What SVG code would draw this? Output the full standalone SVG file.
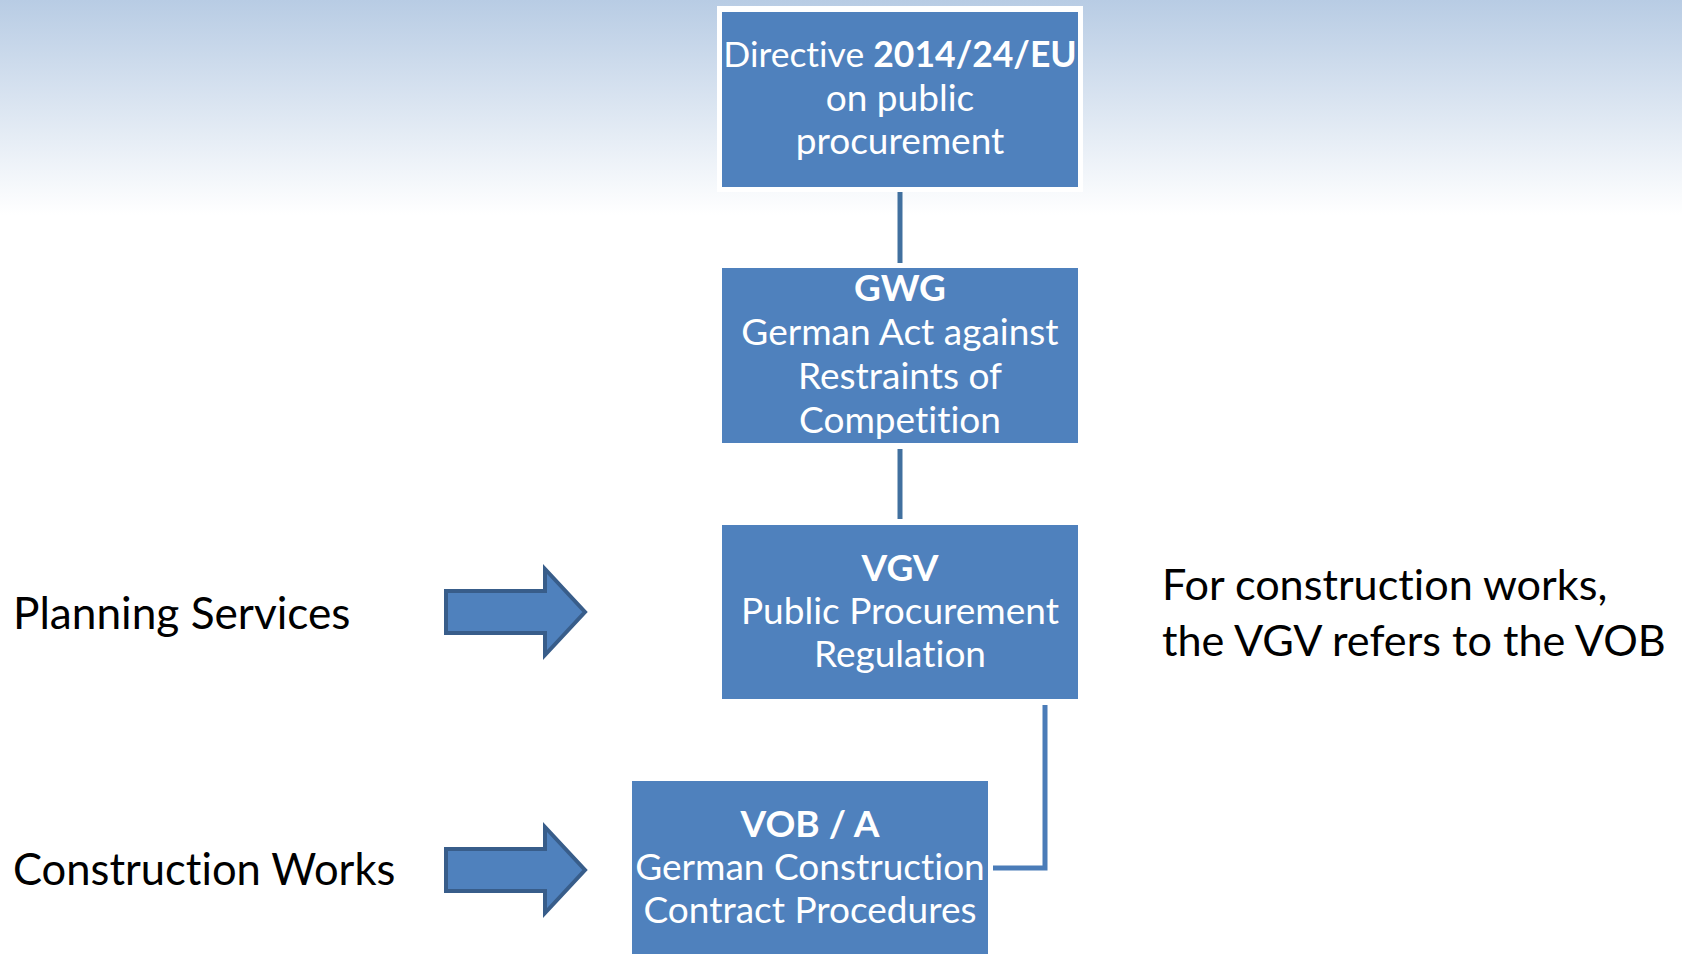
<svg xmlns="http://www.w3.org/2000/svg" width="1682" height="954" viewBox="0 0 1682 954">
<defs>
<linearGradient id="bg" x1="0" y1="0" x2="0" y2="1">
<stop offset="0" stop-color="#B8CCE4"/>
<stop offset="1" stop-color="#FFFFFF"/>
</linearGradient>
<style>
text{font-variant-ligatures:none;font-feature-settings:"liga" 0;}
.box{fill:#4F81BD;}
.bt{font-family:Lato,"Open Sans",sans-serif;font-size:37px;fill:#FFFFFF;text-anchor:middle;}
.b{font-weight:bold;}
.lbl{font-family:Lato,"Open Sans",sans-serif;font-size:43.5px;fill:#000000;}
.conn{fill:none;stroke:#41709F;stroke-width:5;}
.conn2{fill:none;stroke:#4A7CB8;stroke-width:5;}
.arr{fill:#4F81BD;stroke:#385D8A;stroke-width:4;stroke-linejoin:miter;}
</style>
</defs>
<rect x="0" y="0" width="1682" height="954" fill="#FFFFFF"/>
<rect x="0" y="0" width="1682" height="215" fill="url(#bg)"/>

<g id="connectors">
<line class="conn" x1="900" y1="192" x2="900" y2="263"/>
<line class="conn" x1="900" y1="449" x2="900" y2="519"/>
<polyline class="conn2" points="1045,705 1045,868 993,868"/>
</g>

<g id="directive">
<rect x="717" y="6" width="366" height="186" fill="#FFFFFF"/>
<rect class="box" x="722" y="12" width="356" height="175"/>
<text class="bt" x="900" y="67" style="font-size:35.5px">Directive <tspan class="b">2014/24/EU</tspan></text>
<text class="bt" x="900" y="111">on public</text>
<text class="bt" x="900" y="154">procurement</text>
</g>

<g id="gwg">
<rect class="box" x="722" y="268" width="356" height="175"/>
<text class="bt b" x="900" y="301">GWG</text>
<text class="bt" x="900" y="345">German Act against</text>
<text class="bt" x="900" y="389">Restraints of</text>
<text class="bt" x="900" y="433">Competition</text>
</g>

<g id="vgv">
<rect class="box" x="722" y="525" width="356" height="174"/>
<text class="bt b" x="900" y="581">VGV</text>
<text class="bt" x="900" y="624">Public Procurement</text>
<text class="bt" x="900" y="667">Regulation</text>
</g>

<g id="vob">
<rect class="box" x="632" y="781" width="356" height="180"/>
<text class="bt b" x="810" y="837">VOB / A</text>
<text class="bt" x="810" y="880">German Construction</text>
<text class="bt" x="810" y="923">Contract Procedures</text>
</g>

<g id="planning">
<text class="lbl" x="13" y="629" style="font-size:44.2px">Planning Services</text>
<polygon class="arr" points="446,591 545,591 545,569 585,612 545,655 545,633 446,633"/>
</g>

<g id="construction">
<text class="lbl" x="13" y="885">Construction Works</text>
<polygon class="arr" points="446,849 545,849 545,827 585,870 545,913 545,891 446,891"/>
</g>

<g id="note">
<text class="lbl" x="1162" y="600" style="font-size:43.2px">For construction works,</text>
<text class="lbl" x="1162" y="656" style="font-size:43.2px">the VGV refers to the VOB</text>
</g>
</svg>
